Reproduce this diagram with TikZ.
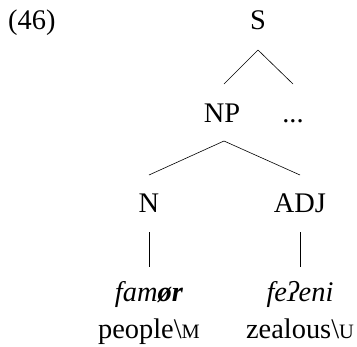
\documentclass[tikz,border=0pt]{standalone}
\usepackage{fontspec}
\setmainfont{Liberation Serif}
\begin{document}
\begin{tikzpicture}[x=1bp,y=-1bp,
  lbl/.style={anchor=base,inner sep=0pt,font=\fontsize{28.5}{32}\selectfont},
  edge/.style={line width=0.6bp}]
\useasboundingbox (0,0) rectangle (357,347);
\newcommand{\smc}[1]{{\fontsize{20.5}{22}\selectfont #1}}
\node[lbl,anchor=base west] (ex) at (8,29) {(46)};
\node[lbl] (S) at (258,29) {S};
\node[lbl] (NP) at (222,122) {NP};
\node[lbl] (dots) at (293,122) {...};
\node[lbl] (N) at (149,212) {N};
\node[lbl] (ADJ) at (300,212) {ADJ};
\node[lbl] (w1) at (149,301) {\textit{fam\textbf{ør}}};
\node[lbl] (g1) at (149,338) {people\textbackslash\smc{M}};
\node[lbl] (w2) at (300,301) {\textit{feʔeni}};
\node[lbl] (g2) at (300,338) {zealous\textbackslash\smc{U}};
\draw[edge] ([yshift=-21bp]S.base) -- ([xshift=2bp,yshift=38bp]NP.base);
\draw[edge] ([yshift=-21bp]S.base) -- ([yshift=38bp]dots.base);
\draw[edge] ([xshift=2bp,yshift=-19bp]NP.base) -- ([yshift=37bp]N.base);
\draw[edge] ([xshift=2bp,yshift=-19bp]NP.base) -- ([yshift=37bp]ADJ.base);
\draw[edge] ([yshift=-20bp]N.base) -- ([yshift=34bp]w1.base);
\draw[edge] ([yshift=-20bp]ADJ.base) -- ([yshift=34bp]w2.base);
\end{tikzpicture}
\end{document}
